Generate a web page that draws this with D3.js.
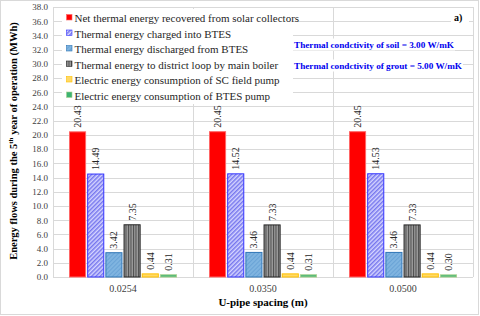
<!DOCTYPE html>
<html>
  <head>
    <meta charset="utf-8">
    <title>Energy flows</title>
    <script src="https://d3js.org/d3.v7.min.js"></script>
    <style>
      body { margin: 0; background: #fff; }
    </style>
  </head>
  <body>
    <script>
      var categories = ["0.0254", "0.0350", "0.0500"];
      var seriesNames = [
        "Net thermal energy recovered from solar collectors",
        "Thermal energy charged into BTES",
        "Thermal energy discharged from BTES",
        "Thermal energy to district loop by main boiler",
        "Electric energy consumption of SC field pump",
        "Electric energy consumption of BTES pump"
      ];
      var netSolar = [20.43, 20.45, 20.45];
      var charged = [14.49, 14.52, 14.53];
      var discharged = [3.42, 3.46, 3.46];
      var boiler = [7.35, 7.33, 7.33];
      var scPump = [0.44, 0.44, 0.44];
      var btesPump = [0.31, 0.31, 0.30];
      var yTicks = d3.range(0, 38.1, 2);

      var series = [netSolar, charged, discharged, boiler, scPump, btesPump];
      var fills = ["#ff0000", "url(#hatchBlue)", "url(#hatchLight)", "url(#stripeGray)", "#ffd966", "#3cb371"];
      var strokes = ["#ff6666", "#3333ff", "#2e75b6", "#262626", "#ffc000", "#a9d18e"];

      var width = 480, height = 316;
      var plotLeft = 53, plotRight = 473, plotTop = 7, plotBottom = 277;
      var serif = "'Liberation Serif', 'Times New Roman', serif";

      var svg = d3.select("body").append("svg")
        .attr("width", width)
        .attr("height", height)
        .attr("font-family", serif);

      var defs = svg.append("defs");
      var p = defs.append("pattern").attr("id", "hatchBlue")
        .attr("patternUnits", "userSpaceOnUse").attr("width", 3).attr("height", 3)
        .attr("patternTransform", "rotate(45)");
      p.append("rect").attr("width", 3).attr("height", 3).attr("fill", "#d5d5ff");
      p.append("rect").attr("width", 1.5).attr("height", 3).attr("fill", "#7777ee");

      p = defs.append("pattern").attr("id", "hatchLight")
        .attr("patternUnits", "userSpaceOnUse").attr("width", 3).attr("height", 3)
        .attr("patternTransform", "rotate(45)");
      p.append("rect").attr("width", 3).attr("height", 3).attr("fill", "#7fb4e0");
      p.append("rect").attr("width", 1).attr("height", 3).attr("fill", "#6aa3d6");

      p = defs.append("pattern").attr("id", "stripeGray")
        .attr("patternUnits", "userSpaceOnUse").attr("width", 2.5).attr("height", 3);
      p.append("rect").attr("width", 2.5).attr("height", 3).attr("fill", "#9a9a9a");
      p.append("rect").attr("width", 1).attr("height", 3).attr("fill", "#4d4d4d");

      // outer border
      svg.append("rect")
        .attr("x", 0.5).attr("y", 0.5)
        .attr("width", width - 2).attr("height", height - 2)
        .attr("fill", "#fff").attr("stroke", "#d9d9d9");

      var y = d3.scaleLinear().domain([0, 38]).range([plotBottom, plotTop]);
      var x0 = d3.scaleBand().domain(categories).range([plotLeft, plotRight]);
      var x1 = d3.scaleBand().domain(d3.range(series.length))
        .range([16, x0.bandwidth() - 16]).paddingInner(0.06);

      // gridlines
      svg.append("g").selectAll("line")
        .data(yTicks)
        .join("line")
        .attr("x1", plotLeft).attr("x2", plotRight)
        .attr("y1", function(d) { return Math.round(y(d)) + 0.5; })
        .attr("y2", function(d) { return Math.round(y(d)) + 0.5; })
        .attr("stroke", "#d9d9d9");

      // category separators
      var seps = [plotLeft].concat(categories.map(function(c) { return x0(c) + x0.bandwidth(); }));
      svg.append("g").selectAll("line")
        .data(seps)
        .join("line")
        .attr("x1", function(d) { return Math.round(d) + 0.5; })
        .attr("x2", function(d) { return Math.round(d) + 0.5; })
        .attr("y1", plotTop).attr("y2", plotBottom)
        .attr("stroke", "#d9d9d9");

      // y axis labels
      var yAxis = d3.axisLeft(y).tickValues(yTicks).tickSize(0).tickPadding(5)
        .tickFormat(d3.format(".1f"));
      var ya = svg.append("g").attr("transform", "translate(" + plotLeft + ",0)").call(yAxis);
      ya.select(".domain").remove();
      ya.selectAll("text").attr("font-size", 9).attr("fill", "#404040")
        .attr("font-family", serif);

      // x axis labels
      var xAxis = d3.axisBottom(x0).tickSize(0).tickPadding(8);
      var xa = svg.append("g").attr("transform", "translate(0," + plotBottom + ")").call(xAxis);
      xa.select(".domain").remove();
      xa.selectAll("text").attr("font-size", 10).attr("fill", "#404040")
        .attr("font-family", serif);

      // bars
      var groups = svg.append("g").selectAll("g")
        .data(categories)
        .join("g")
        .attr("transform", function(c) { return "translate(" + x0(c) + ",0)"; });

      function rows(c, ci) {
        return series.map(function(s, si) { return { si: si, v: s[ci] }; });
      }

      groups.selectAll("rect")
        .data(rows)
        .join("rect")
        .attr("x", function(d) { return x1(d.si) + 0.5; })
        .attr("width", x1.bandwidth() - 1)
        .attr("y", function(d) { return y(d.v); })
        .attr("height", function(d) { return plotBottom - y(d.v); })
        .attr("fill", function(d) { return fills[d.si]; })
        .attr("stroke", function(d) { return strokes[d.si]; })
        .attr("stroke-width", 1);

      groups.selectAll("text")
        .data(rows)
        .join("text")
        .attr("transform", function(d) {
          return "translate(" + (x1(d.si) + x1.bandwidth() / 2 + 3.5) + "," + (y(d.v) - 4) + ") rotate(-90)";
        })
        .attr("font-size", 10)
        .attr("fill", "#262626")
        .text(function(d) { return d.v.toFixed(2); });

      // legend
      var legend = svg.append("g");
      legend.append("rect").attr("x", 62).attr("y", 9).attr("width", 231).attr("height", 95).attr("fill", "#fff");
      var li = legend.selectAll("g")
        .data(seriesNames)
        .join("g")
        .attr("transform", function(d, i) { return "translate(66," + (18 + i * 15.5) + ")"; });
      li.append("rect")
        .attr("x", 0.5).attr("y", -3.5).attr("width", 5.5).attr("height", 5.5)
        .attr("fill", function(d, i) { return fills[i]; })
        .attr("stroke", function(d, i) { return strokes[i]; })
        .attr("stroke-width", 0.6);
      li.append("text")
        .attr("x", 8.5).attr("y", 4)
        .attr("font-size", 11).attr("fill", "#262626")
        .text(function(d) { return d; });

      // annotations
      svg.append("rect").attr("x", 451).attr("y", 10).attr("width", 18).attr("height", 14).attr("fill", "#fff");
      svg.append("text").attr("x", 454).attr("y", 21)
        .attr("font-size", 10).attr("font-weight", "bold").attr("fill", "#000").text("a)");

      var notes = ["Thermal condctivity of soil = 3.00 W/mK", "Thermal condctivity of grout = 5.00 W/mK"];
      var noteG = svg.append("g").selectAll("g")
        .data(notes)
        .join("g")
        .attr("transform", function(d, i) { return "translate(294," + (47.5 + i * 21) + ")"; });
      var noteText = noteG.append("text")
        .attr("font-size", 9.2).attr("font-weight", "bold").attr("fill", "#0000ee")
        .text(function(d) { return d; });
      noteG.insert("rect", "text")
        .attr("x", -1).attr("y", -9)
        .attr("width", function() { return this.parentNode.querySelector("text").getComputedTextLength() + 2; })
        .attr("height", 12)
        .attr("fill", "#fff");

      // axis titles
      var yt = svg.append("text")
        .attr("transform", "translate(17,141) rotate(-90)")
        .attr("text-anchor", "middle")
        .attr("font-size", 10.5).attr("font-weight", "bold").attr("fill", "#000");
      yt.append("tspan").text("Energy flows during the 5");
      yt.append("tspan").attr("font-size", 7).attr("dy", -4).text("th");
      yt.append("tspan").attr("dy", 4).text(" year of operation (MWh)");

      svg.append("text")
        .attr("x", (plotLeft + plotRight) / 2).attr("y", 306)
        .attr("text-anchor", "middle")
        .attr("font-size", 11).attr("font-weight", "bold").attr("fill", "#000")
        .text("U-pipe spacing (m)");
    </script>
  </body>
</html>
